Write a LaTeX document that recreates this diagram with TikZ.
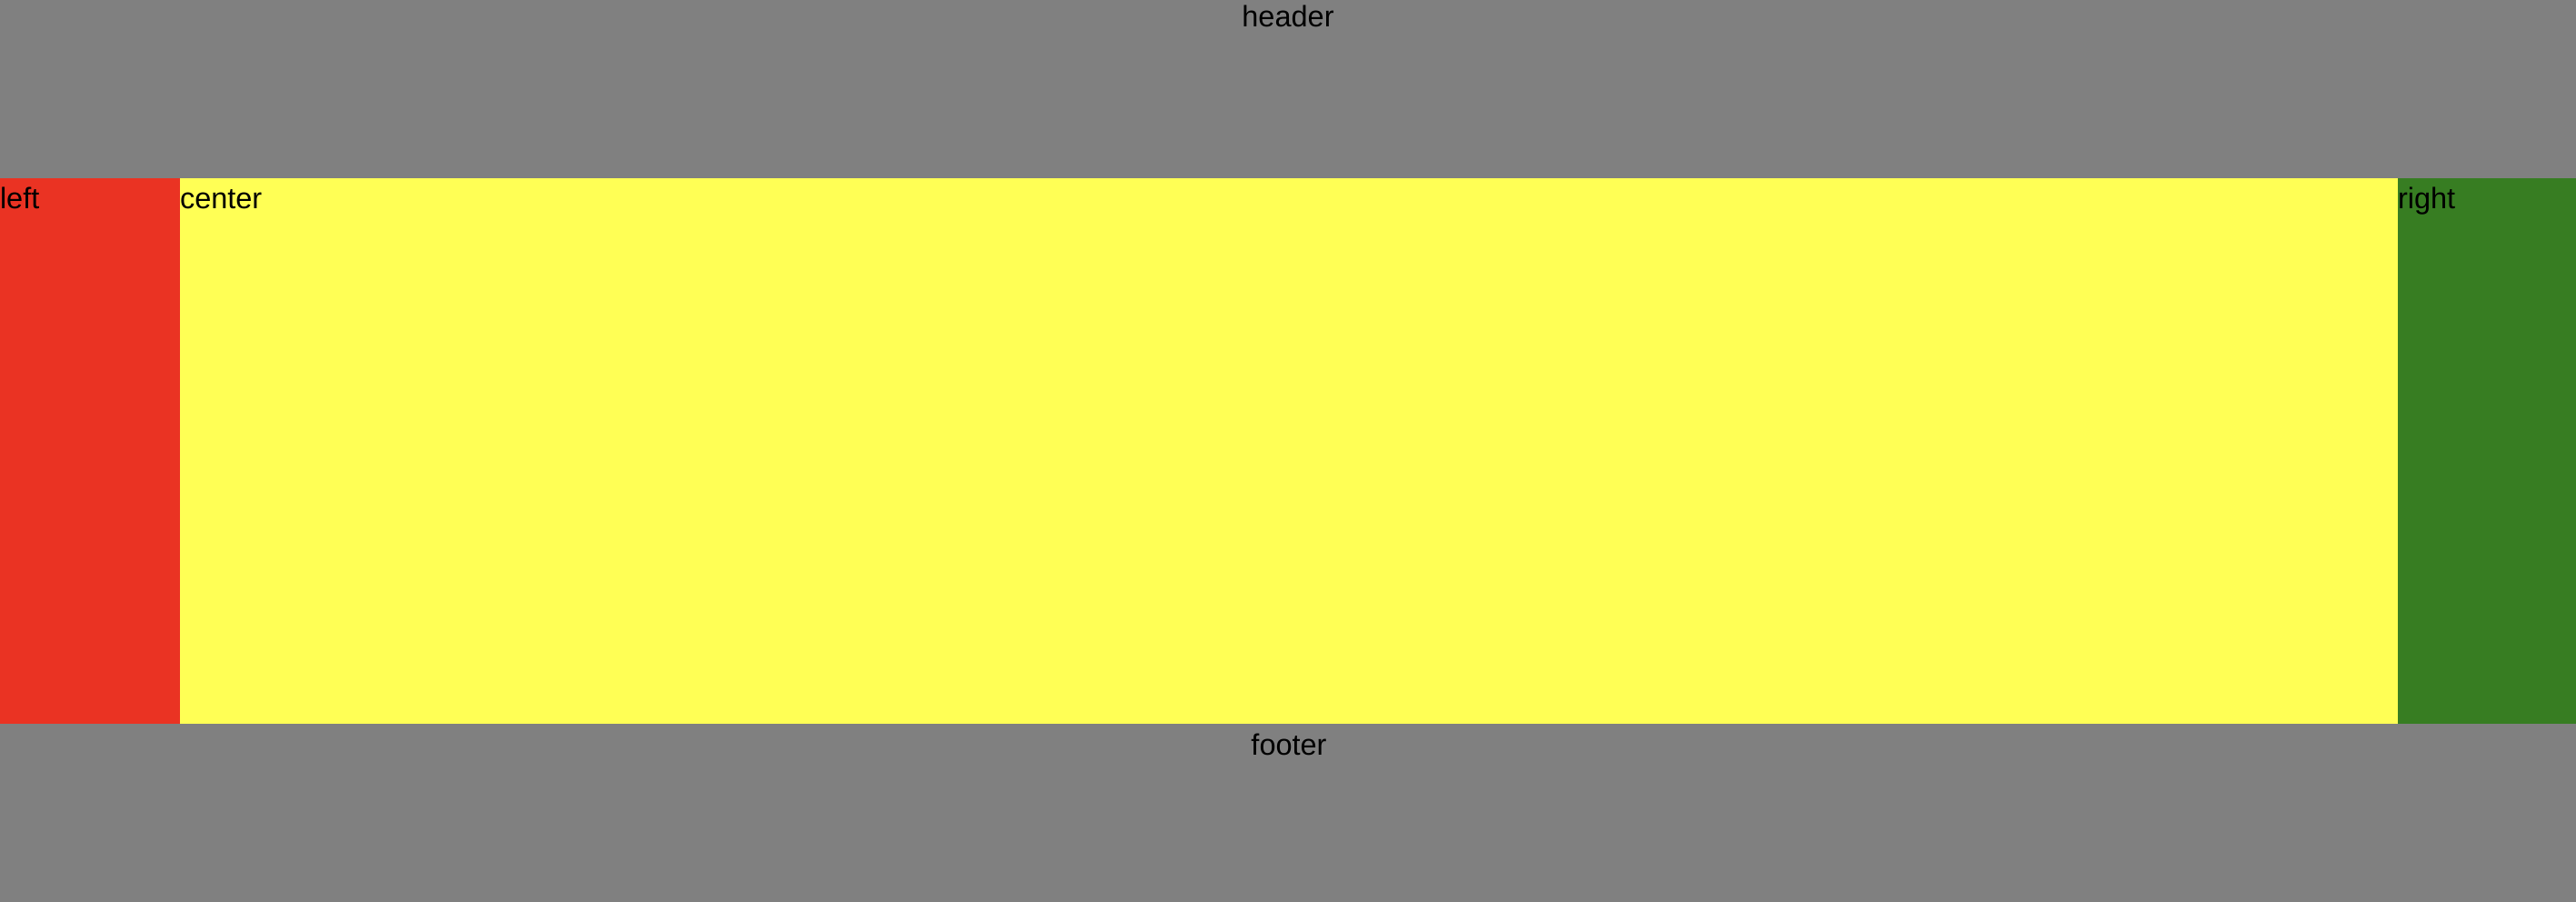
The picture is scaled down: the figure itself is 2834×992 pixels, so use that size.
\documentclass[tikz,border=0pt]{standalone}
\usepackage{fontspec}
\setmainfont{Liberation Sans}
\definecolor{hgray}{HTML}{808080}
\definecolor{lred}{HTML}{EA3323}
\definecolor{cyellow}{HTML}{FFFF55}
\definecolor{rgreen}{HTML}{377D22}
\begin{document}
\begin{tikzpicture}[x=1pt,y=-1pt,
  lbl/.style={inner sep=0pt,outer sep=0pt,font=\fontsize{32.5}{38}\selectfont,text=black}]
\useasboundingbox (0,0) rectangle (2834,992);
\fill[hgray] (0,0) rectangle (2834,196);
\fill[lred] (0,196) rectangle (198,796);
\fill[cyellow] (198,196) rectangle (2638,796);
\fill[rgreen] (2638,196) rectangle (2834,796);
\fill[hgray] (0,796) rectangle (2834,992);
\node[lbl,anchor=base] (header) at (1417,30) {header};
\node[lbl,anchor=base west] (left) at (0,230) {left};
\node[lbl,anchor=base west] (center) at (198,230) {center};
\node[lbl,anchor=base west] (right) at (2638,230) {right};
\node[lbl,anchor=base] (footer) at (1418,830) {footer};
\end{tikzpicture}
\end{document}
